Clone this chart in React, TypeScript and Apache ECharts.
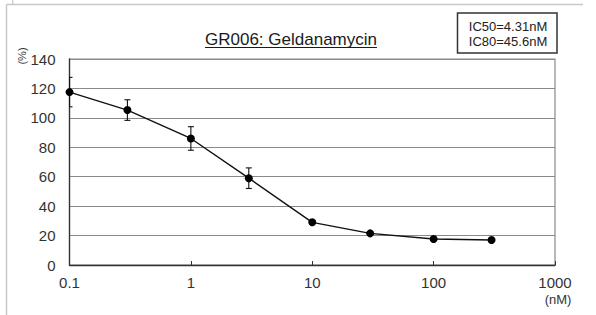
import React, { useEffect, useRef } from "react";
import * as echarts from "echarts";

const concentrations = [0.1, 0.3, 1, 3, 10, 30, 100, 300];
const viability = [117.5, 105.3, 86, 59, 29, 21.5, 17.7, 17];
const errors = [10, 7, 8, 7, 1.2, 1, 1, 1];
const yTicks = [0, 20, 40, 60, 80, 100, 120, 140];
const xTickLabels = ["0.1", "1", "10", "100", "1000"];
const titleText = "GR006: Geldanamycin";
const icLines = ["IC50=4.31nM", "IC80=45.6nM"];

const FONT = "'Liberation Sans', Arial, sans-serif";

function measure(text: string, size: number): number {
  const c = document.createElement("canvas").getContext("2d");
  if (!c) return text.length * size * 0.55;
  c.font = `${size}px 'Liberation Sans', Arial, sans-serif`;
  return c.measureText(text).width;
}

export default function App() {
  const ref = useRef<HTMLDivElement>(null);
  useEffect(() => {
    if (!ref.current) return;
    const chart = echarts.init(ref.current, undefined, { renderer: "svg" });
    const titleSize = 17;
    const titleX = 205;
    const titleW = measure(titleText, titleSize);
    const pts = concentrations.map((c, i) => [c, viability[i]]);
    const errData = concentrations.map((c, i) => [c, viability[i] - errors[i], viability[i] + errors[i]]);
    chart.setOption({
      animation: false,
      backgroundColor: "#fff",
      grid: {
        left: 69.5,
        right: 41,
        top: 59,
        bottom: 50,
        show: true,
        borderColor: "#8a8a8a",
        borderWidth: 1.2,
        outerBoundsMode: "none",
      },
      xAxis: {
        type: "log",
        logBase: 10,
        min: 0.1,
        max: 1000,
        axisLine: { show: true, lineStyle: { color: "#333", width: 1.3 } },
        axisTick: { show: true, inside: true, length: 4, lineStyle: { color: "#333" } },
        splitLine: { show: false },
        minorTick: { show: false },
        axisLabel: {
          color: "#333",
          fontSize: 15,
          fontFamily: FONT,
          margin: 10,
          formatter: (v: number) => {
            const idx = Math.round(Math.log10(v)) + 1;
            return xTickLabels[idx] ?? String(v);
          },
        },
      },
      yAxis: {
        type: "value",
        min: yTicks[0],
        max: yTicks[yTicks.length - 1],
        interval: yTicks[1] - yTicks[0],
        axisLine: { show: true, lineStyle: { color: "#333", width: 1.3 } },
        axisTick: { show: false },
        splitLine: { show: true, lineStyle: { color: "#8a8a8a", width: 1.2 } },
        axisLabel: { color: "#333", fontSize: 15, fontFamily: FONT, margin: 14 },
      },
      series: [
        {
          type: "custom",
          clip: true,
          data: errData,
          z: 3,
          renderItem: (params: any, api: any) => {
            const x = api.value(0);
            const lo = api.coord([x, api.value(1)]);
            const hi = api.coord([x, api.value(2)]);
            const cw = 3;
            const style = { stroke: "#111", lineWidth: 1.1 };
            return {
              type: "group",
              children: [
                { type: "line", shape: { x1: lo[0], y1: lo[1], x2: hi[0], y2: hi[1] }, style },
                { type: "line", shape: { x1: lo[0] - cw, y1: lo[1], x2: lo[0] + cw, y2: lo[1] }, style },
                { type: "line", shape: { x1: hi[0] - cw, y1: hi[1], x2: hi[0] + cw, y2: hi[1] }, style },
              ],
            };
          },
        },
        {
          type: "line",
          data: pts,
          symbol: "circle",
          symbolSize: 8,
          z: 4,
          itemStyle: { color: "#000" },
          lineStyle: { color: "#111", width: 1.4 },
        },
      ],
      graphic: [
        { type: "line", shape: { x1: 6.5, y1: 4.5, x2: 583, y2: 4.5 }, style: { stroke: "#c8c8c8", lineWidth: 1.5 } },
        { type: "line", shape: { x1: 6.5, y1: 4.5, x2: 6.5, y2: 315 }, style: { stroke: "#c8c8c8", lineWidth: 1.5 } },
        { type: "line", shape: { x1: 12.7, y1: 0, x2: 12.7, y2: 4 }, style: { stroke: "#c8c8c8", lineWidth: 1.2 } },
        {
          type: "text",
          x: titleX,
          y: 39.5,
          style: { text: titleText, font: `${titleSize}px ${FONT}`, fill: "#1a1a1a", verticalAlign: "middle", align: "left" },
        },
        {
          type: "line",
          shape: { x1: titleX, y1: 47.5, x2: titleX + titleW, y2: 47.5 },
          style: { stroke: "#1a1a1a", lineWidth: 1.2 },
        },
        {
          type: "rect",
          shape: { x: 457.5, y: 13, width: 99.5, height: 40 },
          style: { fill: "#fff", stroke: "#333", lineWidth: 1.5 },
        },
        {
          type: "text",
          x: 508,
          y: 26,
          style: { text: icLines[0], font: `13px ${FONT}`, fill: "#222", align: "center", verticalAlign: "middle" },
        },
        {
          type: "text",
          x: 508,
          y: 41,
          style: { text: icLines[1], font: `13px ${FONT}`, fill: "#222", align: "center", verticalAlign: "middle" },
        },
        {
          type: "text",
          x: 22,
          y: 56,
          rotation: Math.PI / 2,
          style: { text: "(%)", font: `11px ${FONT}`, fill: "#333", align: "center", verticalAlign: "middle" },
        },
        {
          type: "text",
          x: 558,
          y: 299,
          style: { text: "(nM)", font: `13px ${FONT}`, fill: "#333", align: "center", verticalAlign: "middle" },
        },
      ],
    });
    return () => chart.dispose();
  }, []);
  return <div ref={ref} style={{ width: 596, height: 315, position: "absolute", left: 0, top: 0 }} />;
}
